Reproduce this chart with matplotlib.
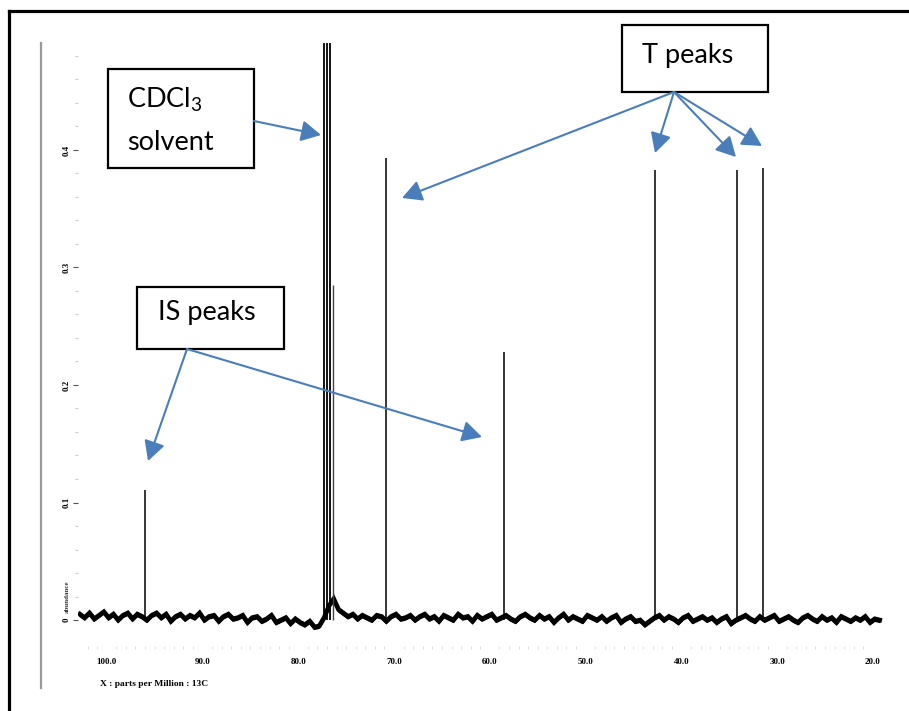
import matplotlib
matplotlib.use("Agg")
import numpy as np
import matplotlib.pyplot as plt
from matplotlib.lines import Line2D
from matplotlib.patches import Rectangle, FancyArrowPatch, ArrowStyle

plt.rcParams["mathtext.fontset"] = "custom"
plt.rcParams["mathtext.rm"] = "Lato"
plt.rcParams["mathtext.it"] = "Lato"

# 13C spectrum: peak list (ppm, abundance)
cdcl3_ppm = [77.32, 77.00, 76.68]
cdcl3_height = [1.0, 1.0, 1.0]
shoulder_ppm = [76.40]
shoulder_height = [0.285]
is_ppm = [96.0, 58.5]
is_height = [0.111, 0.228]
t_ppm = [70.8, 42.75, 34.2, 31.5]
t_height = [0.393, 0.383, 0.383, 0.385]

# baseline trace, sampled every 0.5 ppm from 102.8 ppm downfield to upfield
# (abundance in thousandths)
base_milli = [
    5, 2, 6, 1, 4, 7, 2, 5, 0, 4, 6, 1,
    5, 3, 0, 4, 6, 2, 5, -1, 3, 5, 1, 4,
    2, 6, 0, 3, 4, -1, 3, 5, 1, 2, 4, -2,
    2, 3, -1, 1, 4, -2, 0, 2, -3, 1, -2, -4,
    -1, -6, -5, 2, 12, 18, 9, 6, 3, 5, 1, 4,
    2, 0, 4, 3, -1, 3, 5, 1, 2, 4, 0, 3,
    5, 1, 3, -1, 4, 2, 0, 5, 2, 3, -1, 4,
    1, 3, 5, 0, 2, 4, 1, -1, 3, 5, 2, 0,
    4, 1, 3, -2, 2, 5, 0, 3, 1, -1, 4, 2,
    0, 3, -1, 2, 4, -2, 1, 3, -1, 0, -4, -1,
    2, 4, 0, 3, 1, -2, 2, 4, -1, 1, 3, 0,
    2, -2, 1, 3, -3, 0, 2, 4, 1, -1, 3, 0,
    2, 4, -1, 1, 3, 0, -2, 2, 4, 1, -1, 3,
    0, 2, -2, 3, 1, -1, 2, 0, 3, -2, 1, 0,
]
base_start_ppm = 102.8
base_step_ppm = 0.5

x_ticks = [100, 90, 80, 70, 60, 50, 40, 30, 20]
x_tick_labels = ["100.0", "90.0", "80.0", "70.0", "60.0", "50.0", "40.0", "30.0", "20.0"]
y_ticks = [0, 0.1, 0.2, 0.3, 0.4]
y_tick_labels = ["0", "0.1", "0.2", "0.3", "0.4"]

W, H = 909, 711
fig = plt.figure(figsize=(W / 100, H / 100), dpi=100)


def fx(px):
    return px / W


def fy(py):
    return 1 - py / H


ax = fig.add_axes([fx(78), fy(646), fx(882.5) - fx(78), fy(43) - fy(646)])
ax.set_xlim(103, 19)
ax.set_ylim(-0.0221, 0.491)
for s in ax.spines.values():
    s.set_visible(False)

base_ppm = base_start_ppm - base_step_ppm * np.arange(len(base_milli))
base_val = np.array(base_milli) / 1000.0
ax.plot(base_ppm, base_val, color="black", lw=3.4, solid_joinstyle="miter")
ax.plot(base_ppm, base_val - 0.002, color="black", lw=1.0)
ax.vlines(cdcl3_ppm, 0, cdcl3_height, color="black", lw=1.3)
ax.vlines(shoulder_ppm, 0, shoulder_height, color="#444444", lw=1.0)
ax.vlines(is_ppm, 0, is_height, color="black", lw=1.1)
ax.vlines(t_ppm, 0, t_height, color="black", lw=1.1)

serif = dict(family="Liberation Serif", weight="bold", size=6.5)
ax.set_xticks(x_ticks)
ax.set_xticklabels(x_tick_labels, fontdict=serif)
ax.set_xticks(list(range(20, 103)), minor=True)
ax.tick_params(axis="x", which="major", length=0, pad=9)
ax.tick_params(axis="x", which="minor", length=2.5, color="#e2e2e2", width=0.8, pad=0)

ax.set_yticks(y_ticks)
ax.set_yticklabels(y_tick_labels, fontdict=serif, rotation=90, va="center")
ax.set_yticks([v / 100 for v in range(0, 50, 2)], minor=True)
ax.tick_params(axis="y", which="major", length=3.5, color="#555555", width=0.8, pad=2)
ax.tick_params(axis="y", which="minor", length=2, color="#cccccc", width=0.8)

fig.text(fx(100), fy(684), "X : parts per Million : 13C", ha="left", va="center",
         family="Liberation Serif", weight="bold", size=6.8)
fig.text(fx(67), fy(597), "abundance", ha="center", va="center", rotation=90,
         family="Liberation Serif", weight="bold", size=5.0, color="#333333")

# page frame and grey guide line
fig.add_artist(Line2D([fx(8.5), fx(909)], [fy(10.5), fy(10.5)], color="black", lw=2.3))
fig.add_artist(Line2D([fx(8.5), fx(8.5)], [fy(10.5), fy(711)], color="black", lw=2.3))
fig.add_artist(Line2D([fx(40.5), fx(40.5)], [fy(43), fy(688)], color="#9a9a9a", lw=1.6))

blue = "#4a7ebb"
label_font = dict(family="Lato", size=19.5, color="black")


def box(x0, y0, x1, y1):
    fig.add_artist(Rectangle((fx(x0), fy(y1)), fx(x1) - fx(x0), fy(y0) - fy(y1),
                             transform=fig.transFigure, fill=True, facecolor="white",
                             edgecolor="black", lw=1.6, zorder=5))


def arrow(start, end):
    fig.add_artist(FancyArrowPatch((fx(start[0]), fy(start[1])), (fx(end[0]), fy(end[1])),
                                   transform=fig.transFigure,
                                   arrowstyle=ArrowStyle("-|>", head_length=0.6, head_width=0.32),
                                   mutation_scale=20, color=blue, lw=1.5,
                                   shrinkA=0, shrinkB=0, zorder=6))


box(108, 69, 254, 168)
fig.text(fx(127), fy(108), "CDCl$_3$", ha="left", va="baseline", zorder=7, **label_font)
fig.text(fx(127), fy(150), "solvent", ha="left", va="baseline", zorder=7, **label_font)
arrow((254, 121), (321, 135))

box(622, 25, 768, 92)
fig.text(fx(642), fy(63), "T peaks", ha="left", va="baseline", zorder=7, **label_font)
for end in [(402, 198), (655, 153), (736, 157), (762, 146)]:
    arrow((674, 92), end)

box(137, 287, 284, 349)
fig.text(fx(158), fy(320), "IS peaks", ha="left", va="baseline", zorder=7, **label_font)
for end in [(148, 461), (482, 437)]:
    arrow((187, 349), end)

fig.savefig("out.png", dpi=100)
